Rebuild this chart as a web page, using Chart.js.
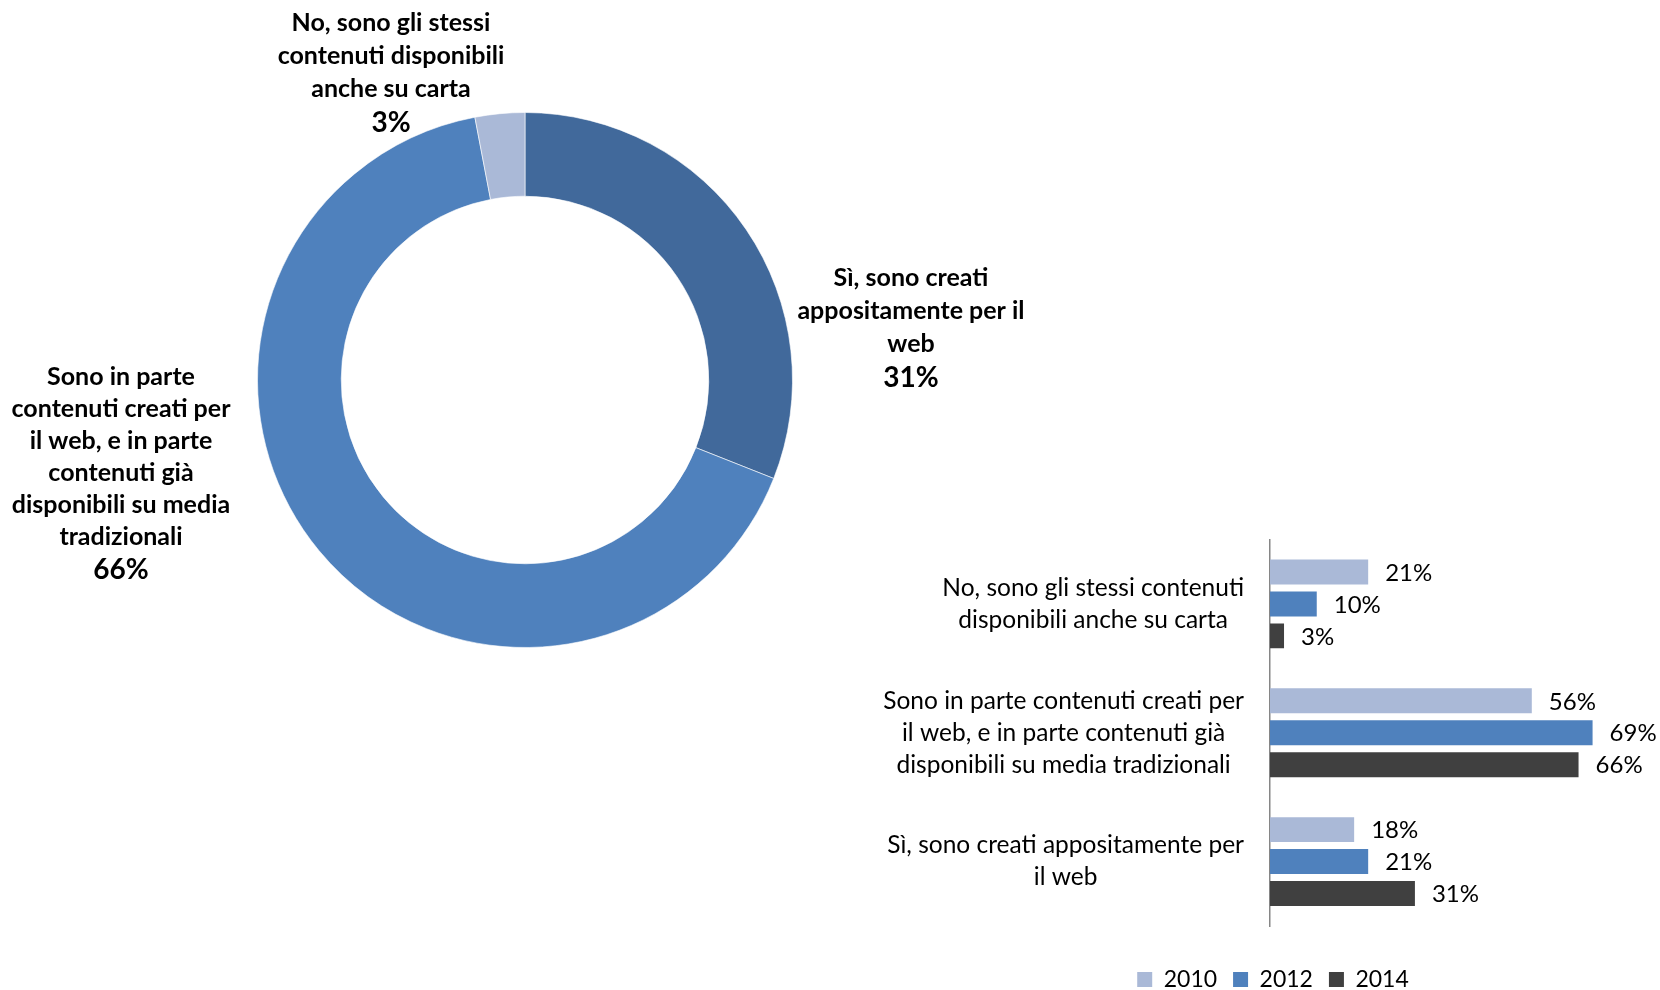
<!DOCTYPE html>
<html>
<head>
<meta charset="utf-8">
<script src="https://cdn.jsdelivr.net/npm/chart.js@4.4.1/dist/chart.umd.min.js"></script>
<style>
    html, body { margin: 0; padding: 0; background: #fff; width: 1660px; height: 990px; overflow: hidden; }
    canvas { position: absolute; }
    #donut { left: 0; top: 0; }
    #bars { left: 800px; top: 500px; }
</style>
</head>
<body>
<canvas id="donut" width="1050" height="760"></canvas>
<canvas id="bars" width="860" height="501"></canvas>
<script>
// Donut data (2014)
const donutCategories = [
    ['Sì, sono creati', 'appositamente per il', 'web'],
    ['Sono in parte', 'contenuti creati per', 'il web, e in parte', 'contenuti già', 'disponibili su media', 'tradizionali'],
    ['No, sono gli stessi', 'contenuti disponibili', 'anche su carta']
];
const donutValues = [31, 66, 3];
const donutColors = ['#41699B', '#4F81BD', '#AAB9D7'];

// Bar data
const barCategories = [
    ['No, sono gli stessi contenuti', 'disponibili anche su carta'],
    ['Sono in parte contenuti creati per', 'il web, e in parte contenuti già', 'disponibili su media tradizionali'],
    ['Sì, sono creati appositamente per', 'il web']
];
const years = ['2010', '2012', '2014'];
const values2010 = [21, 56, 18];
const values2012 = [10, 69, 21];
const values2014 = [3, 66, 31];
const yearColors = ['#AAB9D7', '#4F81BD', '#404040'];

const FONT = 'Lato, "Open Sans", sans-serif';

// where the donut labels sit, relative to the donut centre
const donutLabelPlace = [
    { dx: 386, dy: -102, lh: 33 },
    { dx: -404, dy: -3, lh: 32 },
    { dx: -134, dy: -357, lh: 33 }
];

// Donut labels plugin
const donutLabels = {
    id: 'donutLabels',
    afterDraw(chart) {
        const ctx = chart.ctx;
        const meta = chart.getDatasetMeta(0);
        ctx.save();
        ctx.fillStyle = '#000';
        ctx.textAlign = 'center';
        ctx.textBaseline = 'middle';
        meta.data.forEach((arc, i) => {
            const p = donutLabelPlace[i];
            const x = arc.x + p.dx;
            let y = arc.y + p.dy;
            ctx.font = 'bold 25px ' + FONT;
            donutCategories[i].forEach(line => {
                ctx.fillText(line, x, y);
                y += p.lh;
            });
            ctx.font = 'bold 28px ' + FONT;
            ctx.fillText(donutValues[i] + '%', x, y + 1);
        });
        ctx.restore();
    }
};

new Chart(document.getElementById('donut'), {
    type: 'doughnut',
    data: {
        labels: donutCategories.map(l => l.join(' ')),
        datasets: [{
            data: donutValues,
            backgroundColor: donutColors,
            borderColor: 'rgba(255,255,255,0.6)',
            borderWidth: 1
        }]
    },
    options: {
        responsive: false,
        animation: false,
        cutout: '68.7%',
        layout: { padding: { left: 257, right: 257, top: 112, bottom: 112 } },
        plugins: { legend: { display: false }, tooltip: { enabled: false } }
    },
    plugins: [donutLabels]
});

// Category labels and value labels for the bars
const barLabels = {
    id: 'barLabels',
    afterDraw(chart) {
        const ctx = chart.ctx;
        const yScale = chart.scales.y;
        const right = chart.chartArea.left - 26;
        ctx.save();
        ctx.fillStyle = '#000';
        ctx.textBaseline = 'middle';
        ctx.font = '24.5px ' + FONT;
        ctx.textAlign = 'center';
        barCategories.forEach((lines, i) => {
            const yc = yScale.getPixelForTick(i);
            const w = Math.max(...lines.map(l => ctx.measureText(l).width));
            const xc = right - w / 2;
            lines.forEach((line, j) => {
                ctx.fillText(line, xc, yc + (j - (lines.length - 1) / 2) * 32);
            });
        });
        ctx.font = '24px ' + FONT;
        ctx.textAlign = 'left';
        chart.data.datasets.forEach((ds, d) => {
            chart.getDatasetMeta(d).data.forEach((bar, i) => {
                ctx.fillText(ds.data[i] + '%', bar.x + 17, bar.y + 1);
            });
        });
        ctx.restore();
    }
};

new Chart(document.getElementById('bars'), {
    type: 'bar',
    data: {
        labels: barCategories.map(l => l.join(' ')),
        datasets: [
            { label: years[0], data: values2010, backgroundColor: yearColors[0] },
            { label: years[1], data: values2012, backgroundColor: yearColors[1] },
            { label: years[2], data: values2014, backgroundColor: yearColors[2] }
        ]
    },
    options: {
        indexAxis: 'y',
        responsive: false,
        animation: false,
        categoryPercentage: 0.744,
        barPercentage: 0.78,
        layout: { padding: { left: 102, right: 16, top: 39.5, bottom: 0 } },
        scales: {
            x: {
                min: 0,
                max: 80,
                ticks: { display: false },
                grid: { display: false },
                border: { display: false },
                afterFit: s => { s.height = 26; }
            },
            y: {
                ticks: { display: false },
                grid: { display: false },
                border: { display: true, color: '#868686', width: 1.5 },
                afterFit: s => { s.width = 368; }
            }
        },
        plugins: {
            legend: {
                position: 'bottom',
                labels: {
                    boxWidth: 15,
                    boxHeight: 15,
                    padding: 16,
                    color: '#000',
                    font: { family: FONT, size: 23 }
                }
            },
            tooltip: { enabled: false }
        }
    },
    plugins: [barLabels]
});
</script>
</body>
</html>
